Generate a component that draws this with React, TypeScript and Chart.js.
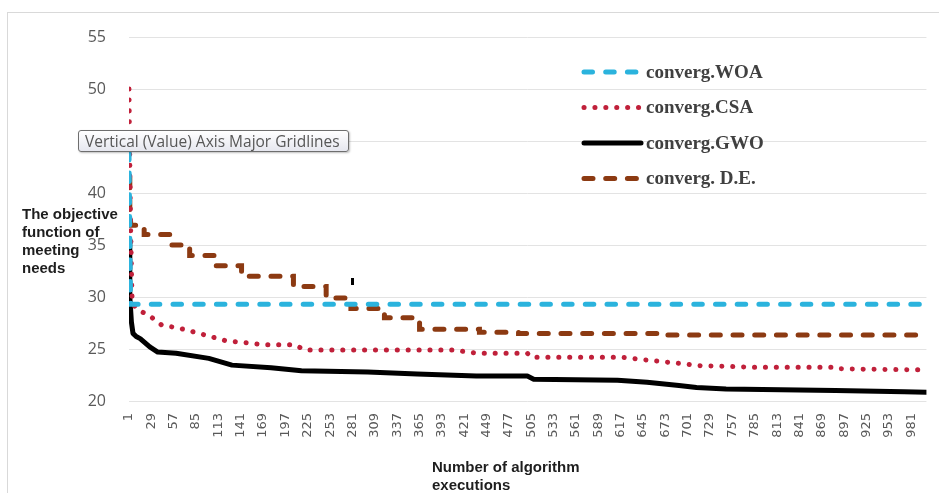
import React, { useEffect, useRef } from 'react';
import { Chart, registerables } from 'chart.js';

Chart.register(...registerables);

// ---- data ----
const xTickValues = [
  1, 29, 57, 85, 113, 141, 169, 197, 225, 253, 281, 309, 337, 365, 393, 421, 449, 477,
  505, 533, 561, 589, 617, 645, 673, 701, 729, 757, 785, 813, 841, 869, 897, 925, 953, 981,
];
const yTickMin = 20;
const yTickMax = 55;
const yTickStep = 5;

const seriesNames = ['converg.WOA', 'converg.CSA', 'converg.GWO', 'converg. D.E.'];

const woaX = [1, 2, 3, 1000];
const woaY = [44, 36, 29.3, 29.3];

const csaX = [1, 2, 3, 4, 5, 12, 25, 42, 64, 89, 122, 172, 209, 221, 407, 436, 500, 505, 618, 655, 692, 715, 783, 886, 890, 977, 1000];
const csaY = [50, 43, 37, 33, 29.4, 28.75, 28.3, 27.3, 27.0, 26.5, 25.8, 25.4, 25.4, 24.9, 24.9, 24.6, 24.6, 24.2, 24.2, 23.9, 23.6, 23.4, 23.25, 23.25, 23.1, 23.0, 23.0];

const gwoX = [1, 2, 3, 4, 6, 10, 15, 27, 37, 60, 101, 130, 179, 217, 300, 362, 436, 500, 508, 613, 650, 690, 712, 749, 886, 972, 1000];
const gwoY = [35.2, 30, 28.8, 27.6, 26.5, 26.2, 26.0, 25.2, 24.7, 24.6, 24.1, 23.45, 23.2, 22.9, 22.8, 22.6, 22.4, 22.4, 22.1, 22.0, 21.8, 21.5, 21.3, 21.15, 21.0, 20.9, 20.85];

const deX = [1, 2, 3, 20, 52, 77, 110, 142, 207, 248, 279, 321, 365, 440, 489, 671, 1000];
const deY = [41.3, 38.0, 36.9, 36.0, 35.0, 34.0, 33.0, 32.0, 31.0, 29.9, 28.9, 28.0, 26.9, 26.6, 26.5, 26.35, 26.35];

const strayX = [281];
const strayY = [31.5];

const yTitleLines = ['The objective', 'function of', 'meeting', 'needs'];
const xTitleLines = ['Number of algorithm', 'executions'];
const tooltipText = 'Vertical (Value) Axis Major Gridlines';

const zip = (xs: number[], ys: number[]) => xs.map((x, i) => ({ x, y: ys[i] }));

const overlayPlugin = {
  id: 'overlay',
  afterDraw(chart: any) {
    const ctx = chart.ctx as CanvasRenderingContext2D;
    ctx.save();
    // legend
    const lx0 = 584;
    const lx1 = 641;
    const tx = 646;
    chart.data.datasets.slice(0, 4).forEach((ds: any, i: number) => {
      const y = 72 + i * 35.5;
      ctx.beginPath();
      ctx.strokeStyle = ds.borderColor;
      ctx.lineWidth = ds.borderWidth;
      ctx.setLineDash(ds.borderDash || []);
      ctx.lineCap = ds.borderCapStyle || 'butt';
      ctx.moveTo(lx0, y);
      ctx.lineTo(lx1, y);
      ctx.stroke();
      ctx.setLineDash([]);
      ctx.fillStyle = '#404040';
      ctx.font = 'bold 19px "Liberation Serif"';
      ctx.textBaseline = 'middle';
      ctx.textAlign = 'left';
      ctx.fillText(ds.label, tx, y + 1);
    });
    // axis titles
    ctx.fillStyle = '#1e1e1e';
    ctx.font = 'bold 15px "Liberation Sans"';
    ctx.textAlign = 'left';
    ctx.textBaseline = 'middle';
    yTitleLines.forEach((t, i) => ctx.fillText(t, 22, 215 + i * 18));
    xTitleLines.forEach((t, i) => ctx.fillText(t, 432, 468 + i * 18));
    ctx.restore();
  },
};

export default function App() {
  const ref = useRef<HTMLCanvasElement>(null);
  useEffect(() => {
    document.body.style.margin = '0';
    const chart = new Chart(ref.current as HTMLCanvasElement, {
      type: 'line',
      data: {
        datasets: [
          {
            label: seriesNames[0],
            data: zip(woaX, woaY),
            borderColor: '#2BB3DD',
            borderWidth: 5,
            borderDash: [8.5, 13.2],
            borderCapStyle: 'round',
            pointRadius: 0,
          },
          {
            label: seriesNames[1],
            data: zip(csaX, csaY),
            borderColor: '#C0203A',
            borderWidth: 5,
            borderDash: [0.1, 10.8],
            borderCapStyle: 'round',
            pointRadius: 0,
          },
          {
            label: seriesNames[2],
            data: zip(gwoX, gwoY),
            borderColor: '#000000',
            borderWidth: 5,
            borderJoinStyle: 'round',
            borderCapStyle: 'round',
            pointRadius: 0,
          },
          {
            label: seriesNames[3],
            data: zip(deX, deY),
            borderColor: '#8C3A12',
            borderWidth: 5,
            borderDash: [9, 12.7],
            borderCapStyle: 'round',
            stepped: 'before',
            pointRadius: 0,
          },
          {
            label: 'mark',
            data: zip(strayX, strayY),
            showLine: false,
            borderColor: '#000000',
            backgroundColor: '#000000',
            borderWidth: 3,
            pointStyle: 'line',
            rotation: 90,
            pointRadius: 3.5,
          },
        ] as any,
      },
      options: {
        animation: false,
        responsive: false,
        layout: { padding: { top: 37, right: 4, left: 0, bottom: 0 } },
        plugins: { legend: { display: false }, tooltip: { enabled: false } },
        scales: {
          x: {
            type: 'linear',
            min: 1,
            max: 1000,
            grid: { display: false, drawTicks: false },
            border: { display: false },
            afterBuildTicks: (s: any) => {
              s.ticks = xTickValues.map((v) => ({ value: v }));
            },
            afterFit: (s: any) => {
              s.height = 92;
            },
            ticks: {
              autoSkip: false,
              minRotation: 90,
              maxRotation: 90,
              padding: 12,
              color: '#595959',
              font: { family: '"DejaVu Sans"', size: 13 },
              callback: (v: any) => String(v),
            },
          },
          y: {
            min: yTickMin,
            max: yTickMax,
            grid: { color: '#E3E3E3', lineWidth: 1, drawTicks: false },
            border: { display: false },
            afterFit: (s: any) => {
              s.width = 129;
            },
            ticks: {
              stepSize: yTickStep,
              padding: 23,
              color: '#595959',
              font: { family: '"Open Sans"', size: 16 },
            },
          },
        },
      } as any,
      plugins: [overlayPlugin],
    });
    return () => chart.destroy();
  }, []);

  return (
    <div style={{ position: 'relative', width: 939, height: 493, overflow: 'hidden', background: '#fff' }}>
      <div
        style={{
          position: 'absolute',
          left: 7,
          top: 12,
          width: 960,
          height: 520,
          border: '1px solid #D9D9D9',
        }}
      />
      <canvas ref={ref} width={939} height={493} style={{ position: 'absolute', left: 0, top: 0 }} />
      <div
        style={{
          position: 'absolute',
          left: 78,
          top: 130,
          width: 263,
          height: 20,
          border: '1px solid #6E6E6E',
          borderRadius: 3,
          background: 'linear-gradient(#ffffff, #e6e7ef)',
          boxShadow: '1px 1px 2px rgba(0,0,0,0.25)',
          color: '#575757',
          fontFamily: '"Open Sans"',
          fontSize: 15.5,
          lineHeight: '20px',
          paddingLeft: 6,
          boxSizing: 'content-box',
          whiteSpace: 'nowrap',
          overflow: 'hidden',
        }}
      >
        {tooltipText}
      </div>
    </div>
  );
}
